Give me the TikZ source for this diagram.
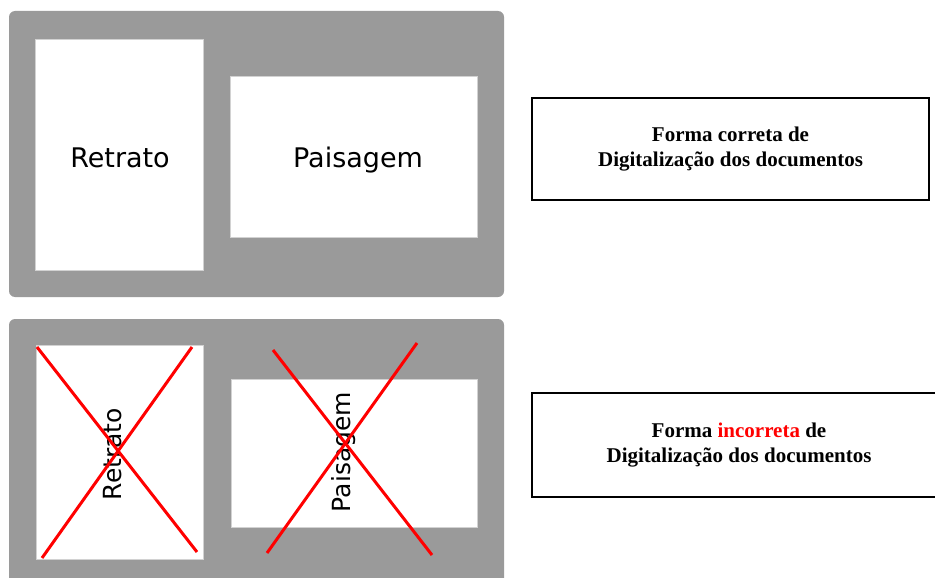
\documentclass[tikz,border=0pt]{standalone}
\usepackage{fontspec}
\setmainfont{Liberation Serif}
\newfontfamily\labelfont{DejaVu Sans}
\definecolor{panelgray}{RGB}{154,154,154}
\definecolor{pageedge}{RGB}{210,210,210}
\definecolor{crossred}{RGB}{255,0,0}

\begin{document}
\begin{tikzpicture}[x=1pt, y=-1pt]
    \tikzstyle{panel} = [fill=panelgray, rounded corners=6pt]
    \tikzstyle{page} = [fill=white, draw=pageedge, line width=0.8pt, inner sep=0pt]
    \tikzstyle{pagelabel} = [font=\labelfont\fontsize{27}{30}\selectfont, inner sep=0pt]
    \tikzstyle{turnedlabel} = [pagelabel, font=\labelfont\fontsize{25}{28}\selectfont, rotate=90]
    \tikzstyle{caption} = [draw, line width=1.6pt, align=center, inner sep=0pt,
        font=\bfseries\fontsize{21}{25}\selectfont]
    \tikzstyle{cross} = [crossred, line width=3pt]
    \clip (0,0) rectangle (935,578);

    \fill[panel] (9,11) rectangle (504,297);
    \node[page, minimum width=168pt, minimum height=231pt] (retratoA) at (119,154.5) {};
    \node[page, minimum width=247pt, minimum height=161pt] (paisagemA) at (353.5,156.5) {};
    \node[pagelabel] (retratoAtext) at (120,158) {Retrato};
    \node[pagelabel] (paisagemAtext) at (358,160) {Paisagem};
    \node[caption, minimum width=397pt, minimum height=102pt] (certo) at (730.5,149)
        {Forma correta de\\Digitaliza\c{c}\~ao dos documentos};

    \fill[panel] (9,319) rectangle (504,590);
    \node[page, minimum width=167pt, minimum height=214pt] (retratoB) at (119.5,452) {};
    \node[page, minimum width=246pt, minimum height=148pt] (paisagemB) at (354,453) {};
    \node[turnedlabel] (retratoBtext) at (113,454) {Retrato};
    \node[turnedlabel] (paisagemBtext) at (344,452) {Paisagem};
    \draw[cross] (37,347) -- (197,552);
    \draw[cross] (192,347) -- (42,558);
    \draw[cross] (273,350) -- (432,555);
    \draw[cross] (417,343) -- (267,553);
    \node[caption, minimum width=414pt, minimum height=104pt] (errado) at (739,445)
        {Forma \textcolor{crossred}{incorreta} de\\Digitaliza\c{c}\~ao dos documentos};
\end{tikzpicture}
\end{document}
